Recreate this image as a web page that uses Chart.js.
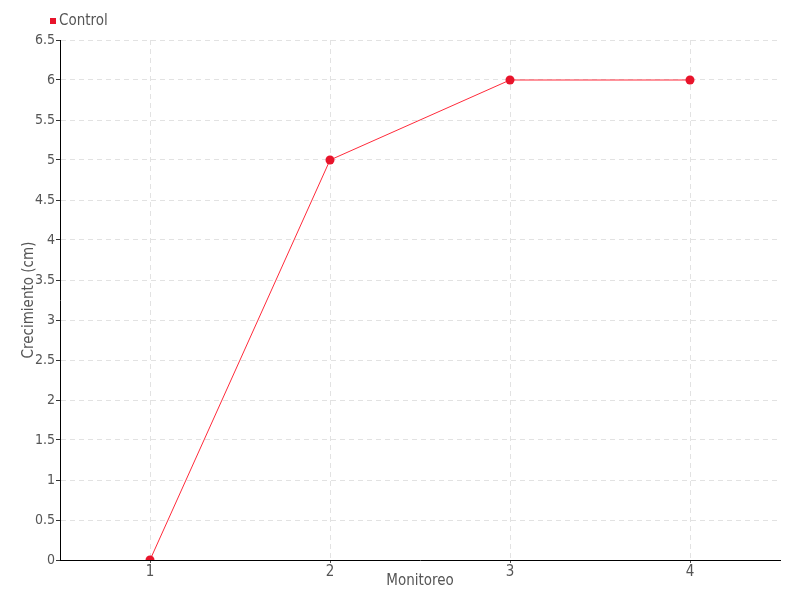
<!DOCTYPE html>
<html>
<head>
<meta charset="utf-8">
<script src="https://cdn.jsdelivr.net/npm/chart.js@4.4.0/dist/chart.umd.min.js"></script>
<style>
  html, body { margin: 0; padding: 0; background: #fff; }
  #wrap { width: 800px; height: 600px; }
</style>
</head>
<body>
<div id="wrap"><canvas id="growthChart" width="800" height="600"></canvas></div>
<script>
const monitoreo = ['1', '2', '3', '4'];
const controlValues = [0, 5, 6, 6];
const seriesName = 'Control';
const yTicks = [0, 0.5, 1, 1.5, 2, 2.5, 3, 3.5, 4, 4.5, 5, 5.5, 6, 6.5];

const fontFamily = '"Liberation Sans Narrow", "DejaVu Sans Condensed", sans-serif';
const textColor = '#555';

// small legend in the top-left corner, drawn from the dataset itself
const cornerLegend = {
    id: 'cornerLegend',
    afterDraw(chart) {
        const c = chart.ctx;
        c.save();
        c.font = '15px ' + fontFamily;
        c.textBaseline = 'middle';
        let x = 50;
        chart.data.datasets.forEach(ds => {
            c.fillStyle = ds.pointBackgroundColor;
            c.fillRect(x, 18, 6, 6);
            c.fillStyle = textColor;
            c.fillText(ds.label, x + 9, 21.5);
            x += 9 + c.measureText(ds.label).width + 12;
        });
        c.restore();
    }
};

const ctx = document.getElementById('growthChart').getContext('2d');
new Chart(ctx, {
    type: 'line',
    data: {
        labels: monitoreo,
        datasets: [{
            label: seriesName,
            data: controlValues,
            borderColor: '#ff2a3a',
            backgroundColor: '#e8142b',
            borderWidth: 1,
            pointRadius: 4.5,
            pointBackgroundColor: '#e8142b',
            pointBorderColor: '#e8142b',
            pointBorderWidth: 0,
            tension: 0,
            fill: false
        }]
    },
    plugins: [cornerLegend],
    options: {
        responsive: false,
        animation: false,
        layout: { padding: { left: 0, right: 20, top: 40, bottom: 0 } },
        plugins: {
            legend: { display: false },
            tooltip: { enabled: false }
        },
        scales: {
            x: {
                type: 'category',
                offset: true,
                afterFit: scale => { scale.height = 40; },
                grid: {
                    offset: false,
                    color: '#e2e2e2',
                    tickColor: '#555',
                    tickLength: 3,
                    tickBorderDash: [0, 0]
                },
                border: { color: '#000', width: 1, dash: [5, 4] },
                ticks: {
                    color: textColor,
                    padding: 0,
                    font: { family: fontFamily, size: 15 }
                },
                title: {
                    display: true,
                    text: 'Monitoreo',
                    color: textColor,
                    padding: { top: 0, bottom: 10 },
                    font: { family: fontFamily, size: 15 }
                }
            },
            y: {
                min: 0,
                max: 6.5,
                afterFit: scale => { scale.width = 60; },
                afterBuildTicks: scale => { scale.ticks = yTicks.map(v => ({ value: v })); },
                grid: {
                    color: '#e2e2e2',
                    tickColor: '#333',
                    tickLength: 4,
                    tickBorderDash: [0, 0]
                },
                border: { color: '#000', width: 1, dash: [5, 4] },
                ticks: {
                    color: textColor,
                    padding: 1,
                    font: { family: fontFamily, size: 14 },
                    callback: value => String(value)
                },
                title: {
                    display: true,
                    text: 'Crecimiento (cm)',
                    color: textColor,
                    padding: { top: 20, bottom: 0 },
                    font: { family: fontFamily, size: 15 }
                }
            }
        }
    }
});
</script>
</body>
</html>
